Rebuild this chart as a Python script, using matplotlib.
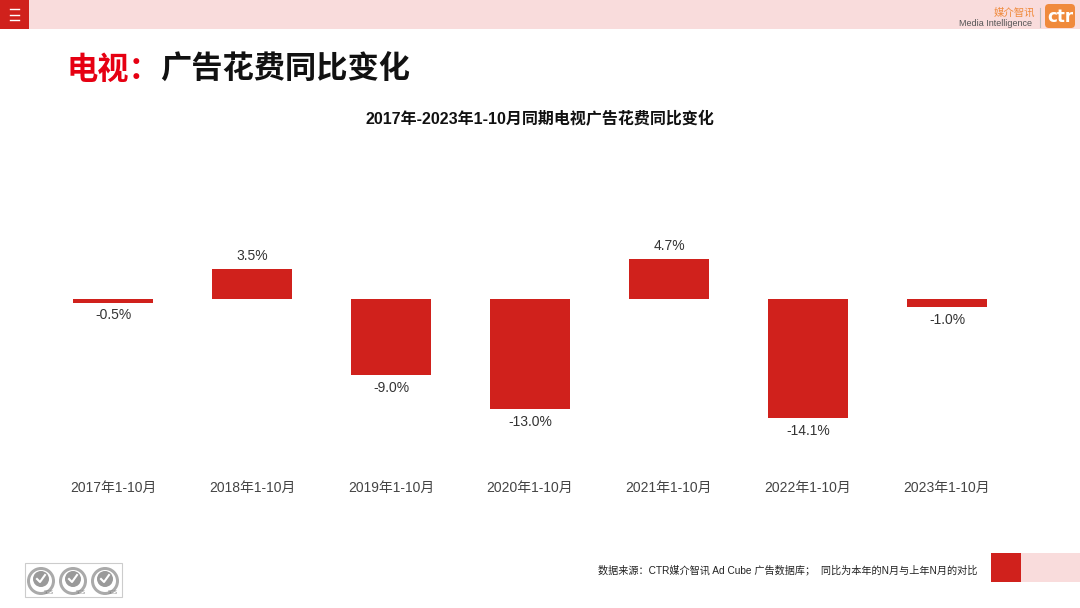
import matplotlib
matplotlib.use("Agg")
import matplotlib.pyplot as plt
from matplotlib.patches import Rectangle, FancyBboxPatch, Circle, Wedge

plt.rcParams['font.family'] = ['Noto Sans CJK SC', 'DejaVu Sans']
MIX = ['Liberation Sans', 'Noto Sans CJK SC', 'DejaVu Sans']

categories = ["2017年1-10月", "2018年1-10月", "2019年1-10月", "2020年1-10月",
              "2021年1-10月", "2022年1-10月", "2023年1-10月"]
values = [-0.5, 3.5, -9.0, -13.0, 4.7, -14.1, -1.0]
labels = ["-0.5%", "3.5%", "-9.0%", "-13.0%", "4.7%", "-14.1%", "-1.0%"]

W, H = 1080, 608
fig = plt.figure(figsize=(W/100, H/100), dpi=100)

def px(x0, y0, x1, y1):
    return [x0/W, 1 - y1/H, (x1-x0)/W, (y1-y0)/H]

# background overlay axis (pixel coords)
bg = fig.add_axes([0, 0, 1, 1])
bg.set_xlim(0, W); bg.set_ylim(H, 0); bg.axis('off')

# top band
bg.add_patch(Rectangle((0, 0), W, 29, color='#F9DCDC', lw=0))
bg.add_patch(Rectangle((0, 0), 29, 29, color='#D0211C', lw=0))
for yy in (9, 14.5, 20):
    bg.plot([10, 19], [yy, yy], color='white', lw=1)
# logo
bg.text(1035, 13, "媒介智讯", color='#F08A3C', fontsize=7.5, ha='right', va='center')
bg.text(1032, 24, "Media Intelligence", color='#555555', fontsize=6.5, ha='right', va='center',
        family='Liberation Sans')
bg.plot([1040, 1040], [8, 27], color='#BBBBBB', lw=0.8)
bg.add_patch(FancyBboxPatch((1045, 4), 30, 24, boxstyle="round,pad=0,rounding_size=4",
                            color='#F08A3C', lw=0))
bg.text(1060, 17, "ctr", color='white', fontsize=12, fontweight='bold', ha='center', va='center',
        family='DejaVu Sans')

# main title
bg.text(66, 70, "电视：", color='#E60012', fontsize=22.5, fontweight='heavy', ha='left', va='center')
bg.text(160, 70, "广告花费同比变化", color='#111111', fontsize=22.5, fontweight='heavy',
        ha='left', va='center')

# chart title
bg.text(540, 119, "2017年-2023年1-10月同期电视广告花费同比变化", color='#111111', fontsize=11.5,
        fontweight='bold', ha='center', va='center', family=MIX)

# footer
bg.text(598, 570, "数据来源：CTR媒介智讯 Ad Cube 广告数据库；  同比为本年的N月与上年N月的对比",
        color='#222222', fontsize=7.3, ha='left', va='center', family=MIX)
bg.add_patch(Rectangle((991, 553), 30, 29, color='#D0211C', lw=0))
bg.add_patch(Rectangle((1021, 553), 59, 29, color='#F9DCDC', lw=0))

# SGS logos
bg.add_patch(Rectangle((25, 563), 97, 34, fill=False, ec='#CCCCCC', lw=0.8))
for cx in (41, 73, 105):
    bg.add_patch(Wedge((cx, 581), 14, 0, 360, width=3, color='#AAAAAA', lw=0))
    bg.add_patch(Circle((cx, 579), 8, color='#9A9A9A', lw=0))
    bg.plot([cx-4, cx-1, cx+4], [579, 582, 575], color='white', lw=1.5)
    bg.text(cx+8, 593, "SGS", fontsize=3.5, color='#888888', ha='center', va='center',
            family='DejaVu Sans')

# chart axes
ppp = 8.5  # pixels per percent
zero_y = 298.5
ymax, ymin = 6, -16
ax = fig.add_axes(px(43.5, zero_y - ymax*ppp, 1016.5, zero_y - ymin*ppp))
ax.set_xlim(-0.5, 6.5)
ax.set_ylim(ymin, ymax)
ax.axis('off')
xs = list(range(len(categories)))
ax.bar(xs, values, width=80/139, color='#D0211C', lw=0)
for x, v, lab in zip(xs, values, labels):
    if v >= 0:
        ax.annotate(lab, (x, v), xytext=(0, 4), textcoords='offset points', ha='center',
                    va='bottom', fontsize=10, color='#333333', family=MIX)
    else:
        ax.annotate(lab, (x, v), xytext=(0, -4), textcoords='offset points', ha='center',
                    va='top', fontsize=10, color='#333333', family=MIX)
    ax.annotate(categories[x], (x, ymin), xycoords='data', xytext=(0, -(488 - (zero_y - ymin*ppp))*0.72),
                textcoords='offset points', ha='center', va='center', fontsize=10, color='#444444',
                annotation_clip=False, family=MIX)

fig.savefig("out.png", dpi=100)
